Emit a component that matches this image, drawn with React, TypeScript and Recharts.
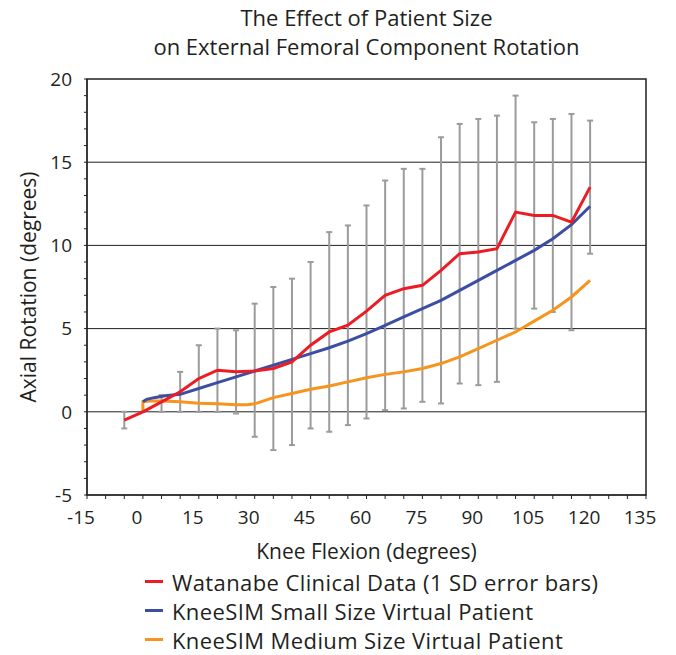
import React from 'react';
import {
  ComposedChart,
  Line,
  XAxis,
  YAxis,
  ErrorBar,
  ReferenceLine,
  ReferenceArea,
} from 'recharts';

// Watanabe clinical data (mean with 1 SD bar ends)
const wataFlexion = [-5, 0, 5, 10, 15, 20, 25, 30, 35, 40, 45, 50, 55, 60, 65, 70, 75, 80, 85, 90, 95, 100, 105, 110, 115, 120];
const wataMean = [-0.5, 0, 0.6, 1.2, 2.0, 2.5, 2.4, 2.45, 2.6, 3.0, 4.0, 4.8, 5.2, 6.05, 7.0, 7.4, 7.6, 8.5, 9.5, 9.6, 9.8, 12.0, 11.8, 11.8, 11.4, 13.5];
const wataTop = [0, 0, 1.0, 2.4, 4.0, 5.0, 4.9, 6.5, 7.5, 8.0, 9.0, 10.8, 11.2, 12.4, 13.9, 14.6, 14.6, 16.5, 17.3, 17.6, 17.8, 19.0, 17.4, 17.6, 17.9, 17.5];
const wataBottom = [-1.0, 0, 0, 0, 0, 0, -0.1, -1.5, -2.3, -2.0, -1.0, -1.2, -0.8, -0.4, 0.1, 0.2, 0.6, 0.5, 1.7, 1.6, 1.8, 5.0, 6.2, 6.0, 4.9, 9.5];

// KneeSIM small size virtual patient
const smallFlexion = [0, 1, 3, 6, 10, 15, 20, 25, 30, 35, 40, 45, 50, 55, 60, 65, 70, 75, 80, 85, 90, 95, 100, 105, 110, 115, 120];
const smallRotation = [0.6, 0.75, 0.85, 0.97, 1.05, 1.4, 1.75, 2.1, 2.45, 2.8, 3.15, 3.5, 3.85, 4.25, 4.7, 5.2, 5.7, 6.2, 6.7, 7.3, 7.9, 8.5, 9.1, 9.7, 10.4, 11.25, 12.35];

// KneeSIM medium size virtual patient
const mediumFlexion = [0, 0, 2, 5, 10, 15, 20, 25, 28, 30, 33, 35, 40, 45, 50, 55, 60, 65, 70, 75, 80, 85, 90, 95, 100, 105, 110, 115, 120];
const mediumRotation = [0, 0.6, 0.65, 0.65, 0.6, 0.52, 0.48, 0.43, 0.42, 0.48, 0.7, 0.85, 1.1, 1.35, 1.55, 1.8, 2.05, 2.25, 2.4, 2.6, 2.9, 3.3, 3.8, 4.3, 4.8, 5.45, 6.1, 6.9, 7.9];

const xTicks = [-15, -10, -5, 0, 5, 10, 15, 20, 25, 30, 35, 40, 45, 50, 55, 60, 65, 70, 75, 80, 85, 90, 95, 100, 105, 110, 115, 120, 125, 130, 135];
const xLabels = [-15, 0, 15, 30, 45, 60, 75, 90, 105, 120, 135];
const yTicks = [-5, -4, -3, -2, -1, 0, 1, 2, 3, 4, 5, 6, 7, 8, 9, 10, 11, 12, 13, 14, 15, 16, 17, 18, 19, 20];
const yLabels = [-5, 0, 5, 10, 15, 20];
const gridValues = [0, 5, 10, 15];

const legendItems = [
  { name: 'Watanabe Clinical Data (1 SD error bars)', color: '#ed1c24' },
  { name: 'KneeSIM Small Size Virtual Patient', color: '#3b4ea2' },
  { name: 'KneeSIM Medium Size Virtual Patient', color: '#f7941d' },
];

const FONT = '"Open Sans", sans-serif';
const INK = '#231f20';

const wataData = wataFlexion.map((x, i) => ({
  x,
  y: wataMean[i],
  err: [wataMean[i] - wataBottom[i], wataTop[i] - wataMean[i]],
}));
const smallData = smallFlexion.map((x, i) => ({ x, y: smallRotation[i] }));
const mediumData = mediumFlexion.map((x, i) => ({ x, y: mediumRotation[i] }));

export default function App() {
  return (
    <div style={{ position: 'absolute', left: 0, top: 0, width: 676, height: 655, background: '#fff', fontFamily: FONT, color: INK }}>
      <div style={{ position: 'absolute', left: 87, top: 3, width: 559, textAlign: 'center', fontSize: 22, lineHeight: '29px' }}>
        The Effect of Patient Size
        <br />
        on External Femoral Component Rotation
      </div>

      <ComposedChart width={676} height={655} margin={{ top: 79, right: 30, left: 27, bottom: 90 }}>
        <XAxis
          type="number"
          dataKey="x"
          domain={[-15, 135]}
          ticks={xTicks}
          interval={0}
          allowDuplicatedCategory={false}
          tickFormatter={(v: number) => (xLabels.includes(v) ? String(v) : '')}
          tick={{ fill: INK, fontSize: 19, fontFamily: FONT, dx: -6 }}
          tickSize={4}
          tickMargin={12}
          stroke={INK}
          height={70}
          label={{ value: 'Knee Flexion (degrees)', position: 'insideBottom', offset: 6, fill: INK, fontSize: 21, fontFamily: FONT }}
        />
        <YAxis
          type="number"
          domain={[-5, 20]}
          ticks={yTicks}
          interval={0}
          tickFormatter={(v: number) => (yLabels.includes(v) ? String(v) : '')}
          tick={{ fill: INK, fontSize: 19, fontFamily: FONT }}
          tickSize={3}
          tickMargin={12}
          stroke={INK}
          width={60}
          label={{ value: 'Axial Rotation (degrees)', angle: -90, position: 'insideLeft', offset: 2, fill: INK, fontSize: 21, fontFamily: FONT, style: { textAnchor: 'middle' } }}
        />
        {gridValues.map((v) => (
          <ReferenceLine key={v} y={v} stroke={INK} strokeWidth={1} />
        ))}
        <ReferenceArea x1={-15} x2={135} y1={-5} y2={20} fill="none" stroke={INK} strokeWidth={1.5} />

        <Line
          data={wataData}
          dataKey="y"
          stroke="none"
          dot={false}
          activeDot={false}
          legendType="none"
          isAnimationActive={false}
        >
          <ErrorBar dataKey="err" width={3} stroke="#9b9b9b" strokeWidth={2} direction="y" />
        </Line>
        <Line data={mediumData} dataKey="y" type="linear" stroke="#f7941d" strokeWidth={3} dot={false} isAnimationActive={false} />
        <Line data={smallData} dataKey="y" type="linear" stroke="#3b4ea2" strokeWidth={3} dot={false} isAnimationActive={false} />
        <Line data={wataData} dataKey="y" type="linear" stroke="#ed1c24" strokeWidth={3} dot={false} isAnimationActive={false} />
      </ComposedChart>

      <div style={{ position: 'absolute', left: 145, top: 567, whiteSpace: 'nowrap' }}>
        {legendItems.map((item) => (
          <div key={item.name} style={{ display: 'flex', alignItems: 'center', height: 29, fontSize: 22, letterSpacing: 0.4 }}>
            <span style={{ display: 'inline-block', width: 18, height: 3, background: item.color, marginRight: 9 }} />
            <span>{item.name}</span>
          </div>
        ))}
      </div>
    </div>
  );
}
